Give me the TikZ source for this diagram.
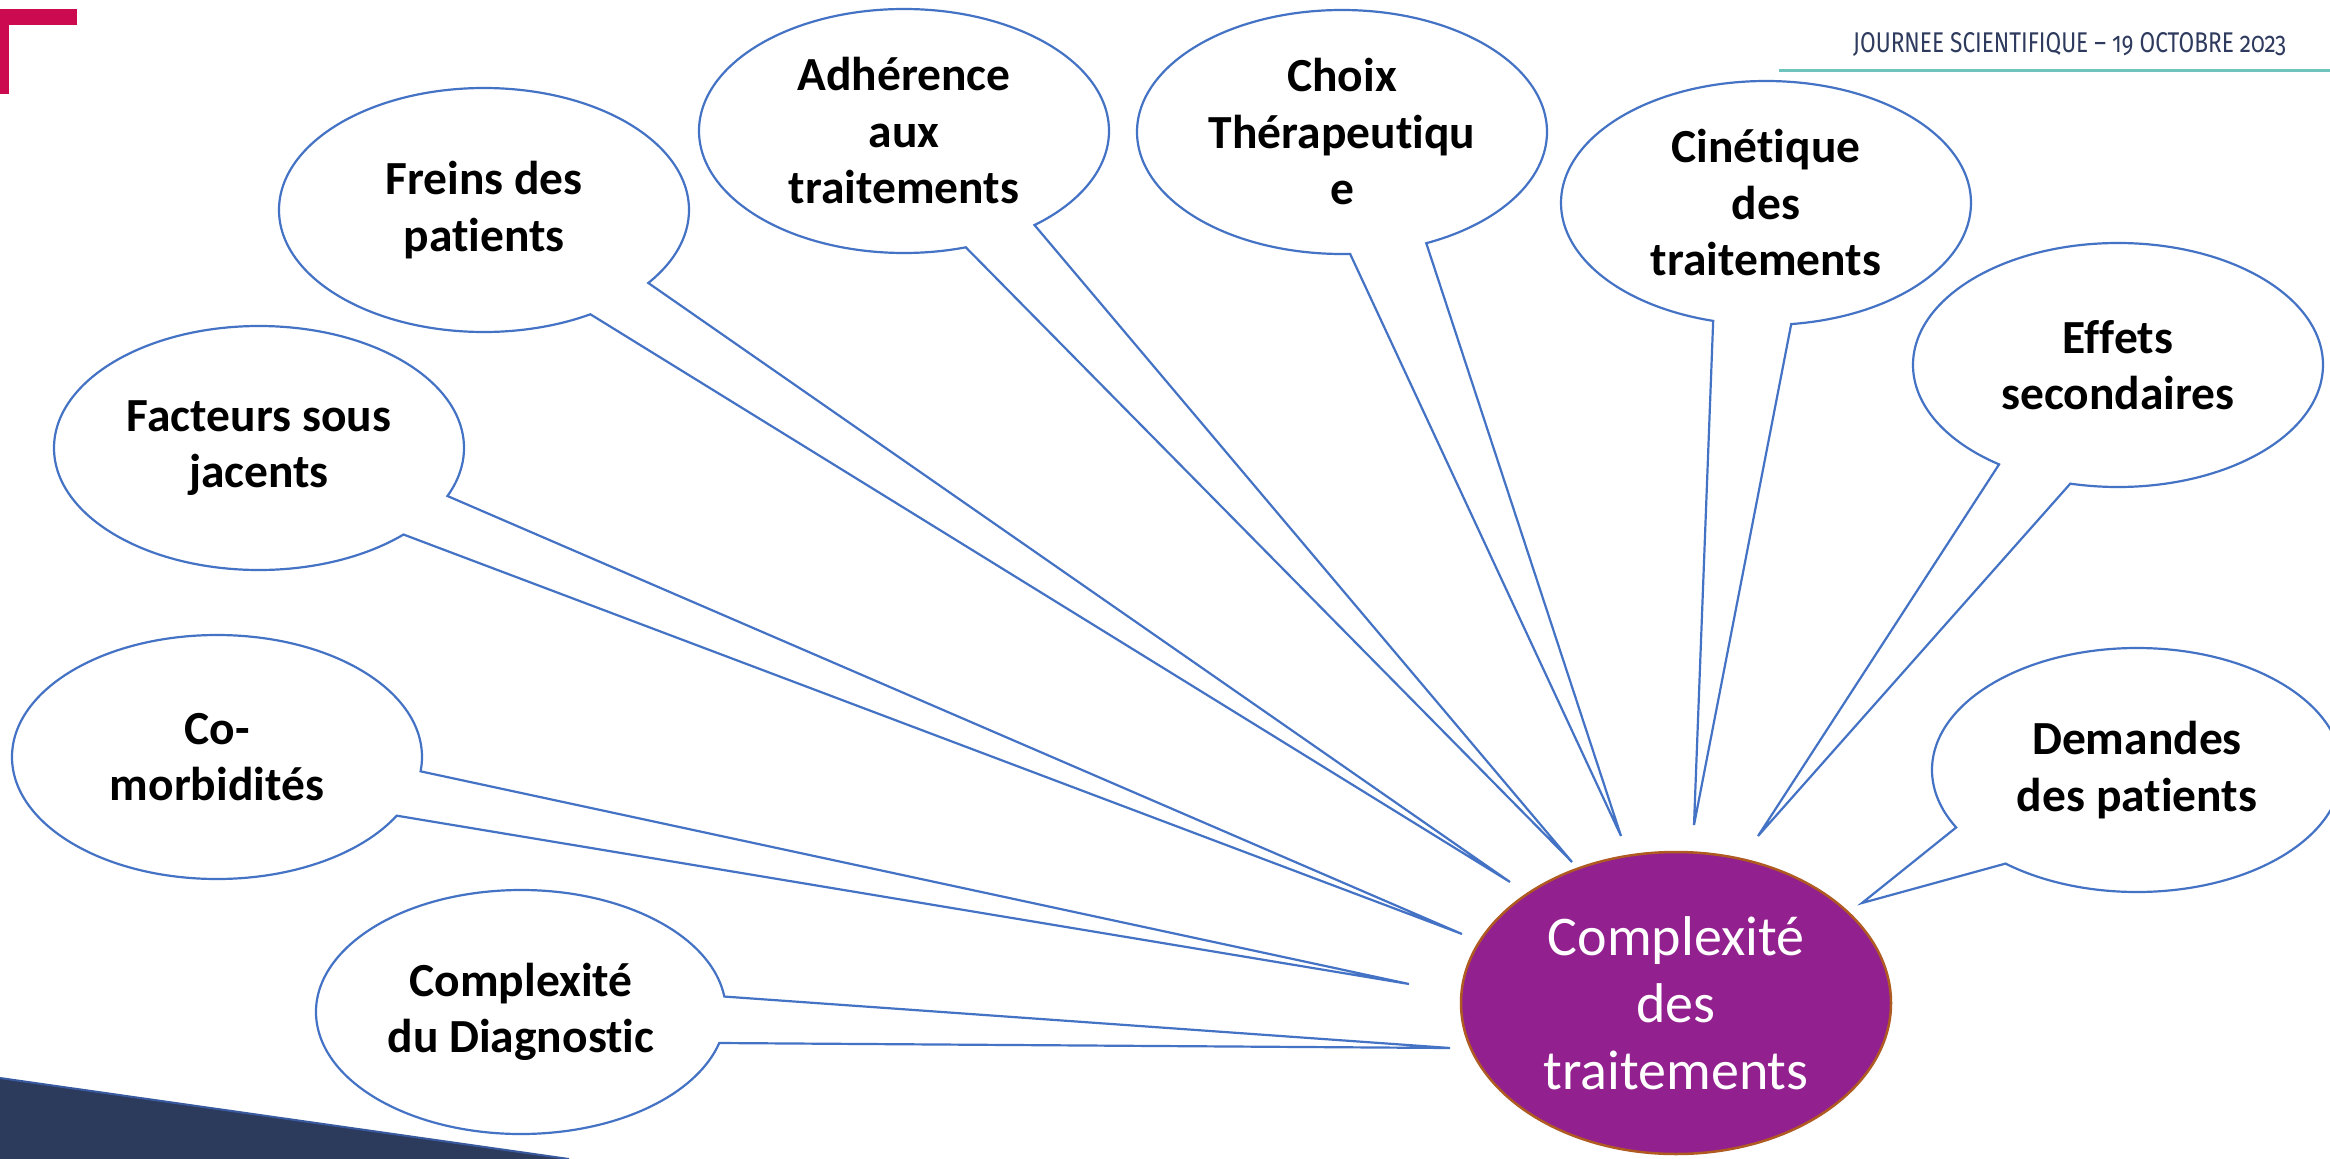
\documentclass[tikz,border=0pt]{standalone}
\usepackage{graphicx}
\usepackage{fontspec}
\usetikzlibrary{shapes.geometric,shapes.callouts}
\newfontfamily\calibri[Ligatures=NoCommon]{Carlito}
\newfontfamily\headfont[Numbers=OldStyle]{Fira Sans}
\definecolor{bubbleblue}{HTML}{4472C4}
\definecolor{hubpurple}{HTML}{93208F}
\definecolor{hubborder}{HTML}{AE5A21}
\definecolor{navyband}{HTML}{2C3A5C}
\definecolor{navyedge}{HTML}{3A5AA0}
\definecolor{tealline}{HTML}{6FC3BD}
\definecolor{crimson}{HTML}{CC0A50}
\definecolor{headtext}{HTML}{2E3B5E}
\tikzset{
  bubble/.style={ellipse callout, draw=bubbleblue, line width=2.2pt, fill=white,
    minimum width=410pt, minimum height=244pt, inner sep=0pt, outer sep=0pt,
    callout pointer arc=22,
    align=center, text=black, font=\calibri\bfseries\fontsize{47.5}{56.5}\selectfont},
  hub/.style={ellipse, draw=hubborder, line width=2.5pt, fill=hubpurple,
    minimum width=430pt, minimum height=302pt, inner sep=0pt, align=center,
    text=white, font=\calibri\fontsize{56}{67}\selectfont},
}
\begin{document}
\begin{tikzpicture}[x=1pt,y=-1pt]
\path[use as bounding box, fill=white] (0,0) rectangle (2330,1159);
% corner mark and header
\fill[crimson] (0,9) rectangle (77,25);
\fill[crimson] (0,9) rectangle (9,94);
\draw[tealline, line width=3.5pt] (1779,70.5) -- (2330,70.5);
\node[anchor=base west, inner sep=0pt, text=headtext] (head) at (1853,52)
  {\resizebox{433pt}{20pt}{\headfont JOURNEE SCIENTIFIQUE – 19 OCTOBRE 2023}};
% bottom-left band
\fill[navyband] (0,1078) -- (569,1159) -- (0,1159) -- cycle;
\draw[navyedge, line width=2pt] (0,1078) -- (569,1159);
% pointer tips
\coordinate (tFre) at (1510,882);
\coordinate (tAdh) at (1572,862);
\coordinate (tCho) at (1621,836);
\coordinate (tCin) at (1694,825);
\coordinate (tEff) at (1758,836);
\coordinate (tDem) at (1862,903);
\coordinate (tFac) at (1462,934);
\coordinate (tCom) at (1409,984);
\coordinate (tDia) at (1450,1048);
% callouts
\node[bubble, callout absolute pointer={(tFre)}] (fre) at (484,210) {Freins des\\patients};
\node[bubble, callout absolute pointer={(tAdh)}] (adh) at (904,131) {Adhérence\\aux\\traitements};
\node[bubble, callout absolute pointer={(tCho)}] (cho) at (1342,132) {Choix\\Thérapeutiqu\\e};
\node[bubble, callout absolute pointer={(tCin)}] (cin) at (1766,203) {Cinétique\\des\\traitements};
\node[bubble, callout absolute pointer={(tEff)}] (eff) at (2118,365) {Effets\\secondaires};
\node[bubble, callout absolute pointer={(tDem)}] (dem) at (2137,770) {Demandes\\des patients};
\node[bubble, callout absolute pointer={(tFac)}] (fac) at (259,448) {Facteurs sous\\jacents};
\node[bubble, callout absolute pointer={(tCom)}] (com) at (217,757) {Co-\\morbidités};
\node[bubble, callout absolute pointer={(tDia)}] (dia) at (521,1012) {Complexité\\du Diagnostic};
% hub
\node[hub] (hubnode) at (1676,1003) {Complexité\\des\\traitements};
\end{tikzpicture}
\end{document}
